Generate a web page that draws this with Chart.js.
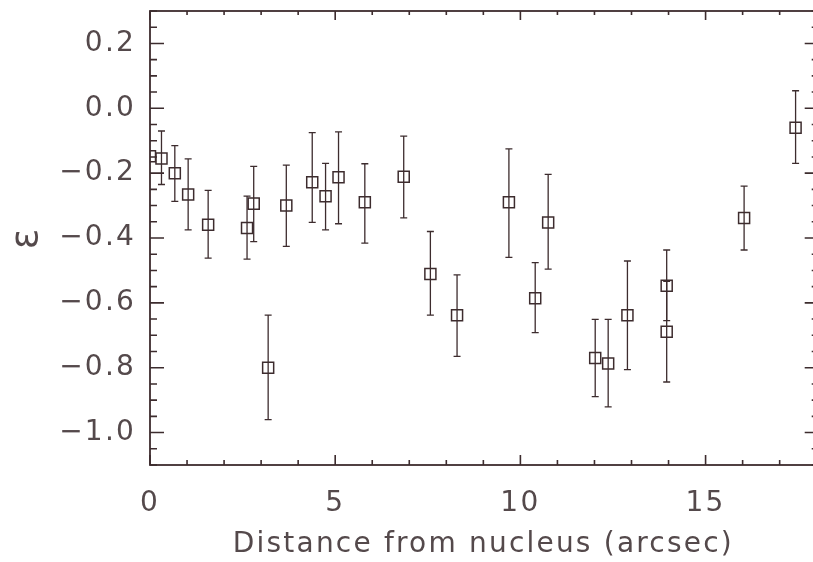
<!DOCTYPE html>
<html>
<head>
<meta charset="utf-8">
<script src="https://cdn.jsdelivr.net/npm/chart.js@4.4.1/dist/chart.umd.min.js"></script>
<style>
  html, body { margin: 0; padding: 0; background: #fff; overflow: hidden; }
  #wrap { width: 813px; height: 562px; overflow: hidden; }
  #box { width: 826px; height: 562px; position: relative; }
</style>
</head>
<body>
<div id="wrap"><div id="box"><canvas id="chart"></canvas></div></div>
<script>
// data
const distance = [0.0, 0.31, 0.67, 1.03, 1.57, 2.62, 2.80, 3.19, 3.68, 4.38, 4.74, 5.09, 5.80,
                  6.85, 7.57, 8.29, 9.69, 10.40, 10.75, 12.02, 12.37, 12.89, 13.95, 13.95, 16.04, 17.43];
const epsilon  = [-0.148, -0.155, -0.200, -0.266, -0.359, -0.369, -0.294, -0.800, -0.300, -0.228, -0.271, -0.213, -0.290,
                  -0.211, -0.511, -0.638, -0.290, -0.586, -0.352, -0.770, -0.787, -0.638, -0.547, -0.689, -0.338, -0.060];
const errTop   = [null, -0.070, -0.115, -0.156, -0.253, -0.271, -0.179, -0.638, -0.175, -0.075, -0.170, -0.073, -0.171,
                  -0.086, -0.380, -0.514, -0.125, -0.476, -0.204, -0.651, -0.651, -0.471, -0.437, -0.534, -0.240, 0.054];
const errBottom = [null, -0.235, -0.287, -0.375, -0.462, -0.465, -0.411, -0.960, -0.426, -0.352, -0.375, -0.356, -0.416,
                  -0.338, -0.638, -0.765, -0.460, -0.692, -0.496, -0.889, -0.921, -0.806, -0.655, -0.844, -0.437, -0.170];

const xTicks = [0, 5, 10, 15];
const yTicks = [-1.0, -0.8, -0.6, -0.4, -0.2, 0.0, 0.2];

const ink = '#3d2c2e';
const textInk = '#54494b';

// wider letter spacing, closer to the plotter font
const spacing = {
  id: 'spacing',
  beforeDraw(chart) { chart.ctx.letterSpacing = '2.2px'; }
};

// error bars drawn under the squares
const errorBars = {
  id: 'errorBars',
  beforeDatasetsDraw(chart) {
    const { ctx, scales: { x, y } } = chart;
    ctx.save();
    ctx.strokeStyle = ink;
    ctx.lineWidth = 1.3;
    for (let i = 0; i < distance.length; i++) {
      if (errTop[i] === null) continue;
      const px = x.getPixelForValue(distance[i]);
      const t = y.getPixelForValue(errTop[i]);
      const b = y.getPixelForValue(errBottom[i]);
      ctx.beginPath();
      ctx.moveTo(px, t); ctx.lineTo(px, b);
      ctx.moveTo(px - 3.5, t); ctx.lineTo(px + 3.5, t);
      ctx.moveTo(px - 3.5, b); ctx.lineTo(px + 3.5, b);
      ctx.stroke();
    }
    ctx.restore();
  }
};

// box frame with inward ticks on all four sides
const frameTicks = {
  id: 'frameTicks',
  afterDraw(chart) {
    const { ctx, chartArea: a, scales: { x, y } } = chart;
    ctx.save();
    ctx.strokeStyle = ink;
    ctx.lineWidth = 1.8;
    ctx.strokeRect(a.left, a.top, a.right - a.left, a.bottom - a.top);
    ctx.lineWidth = 1.6;
    ctx.beginPath();
    for (let v = 0; v <= x.max; v += 1) {
      const px = x.getPixelForValue(v);
      const major = v % 5 === 0;
      ctx.moveTo(px, a.bottom); ctx.lineTo(px, a.bottom - (major ? 10 : 5));
      ctx.moveTo(px, a.top); ctx.lineTo(px, a.top + (major ? 9 : 4));
    }
    for (let k = -22; k <= 6; k++) {
      const v = k * 0.05;
      const py = y.getPixelForValue(v);
      const major = k % 4 === 0;
      ctx.moveTo(a.left, py); ctx.lineTo(a.left + (major ? 14 : 7), py);
      ctx.moveTo(a.right, py); ctx.lineTo(a.right - (major ? 12 : 5), py);
    }
    ctx.stroke();
    ctx.restore();
  }
};

const fmt = v => v.toFixed(1).replace('-', '\u2212');

new Chart(document.getElementById('chart'), {
  type: 'scatter',
  data: {
    datasets: [{
      data: distance.map((d, i) => ({ x: d, y: epsilon[i] })),
      pointStyle: 'rect',
      pointRadius: 7.8,
      pointBorderWidth: 1.5,
      pointBorderColor: ink,
      pointBackgroundColor: 'rgba(0,0,0,0)',
      showLine: false
    }]
  },
  options: {
    responsive: true,
    maintainAspectRatio: false,
    animation: false,
    layout: { padding: { left: 0, top: 11, right: 8, bottom: 0 } },
    plugins: {
      legend: { display: false },
      tooltip: { enabled: false }
    },
    scales: {
      x: {
        type: 'linear',
        min: 0,
        max: 18,
        afterBuildTicks: s => { s.ticks = xTicks.map(v => ({ value: v })); },
        afterFit: s => { s.height = 97; s.paddingLeft = 0; s.paddingRight = 0; },
        grid: { display: false, drawTicks: false },
        border: { display: false },
        ticks: {
          padding: 22,
          maxRotation: 0,
          color: textInk,
          font: { family: 'DejaVu Sans', size: 28 },
          callback: v => String(v)
        },
        title: {
          display: true,
          text: 'Distance from nucleus (arcsec)',
          color: textInk,
          font: { family: 'DejaVu Sans', size: 28 },
          padding: { top: 0, bottom: 0 }
        }
      },
      y: {
        type: 'linear',
        min: -1.1,
        max: 0.3,
        afterBuildTicks: s => { s.ticks = yTicks.map(v => ({ value: v })); },
        afterFit: s => { s.width = 150; s.paddingTop = 0; s.paddingBottom = 0; },
        grid: { display: false, drawTicks: false },
        border: { display: false },
        ticks: {
          padding: 14,
          color: textInk,
          font: { family: 'DejaVu Sans', size: 28 },
          callback: v => fmt(v)
        },
        title: {
          display: true,
          text: '\u03b5',
          color: textInk,
          font: { family: 'DejaVu Sans', size: 38 },
          padding: { top: 4, bottom: 0 }
        }
      }
    }
  },
  plugins: [spacing, errorBars, frameTicks]
});
</script>
</body>
</html>
